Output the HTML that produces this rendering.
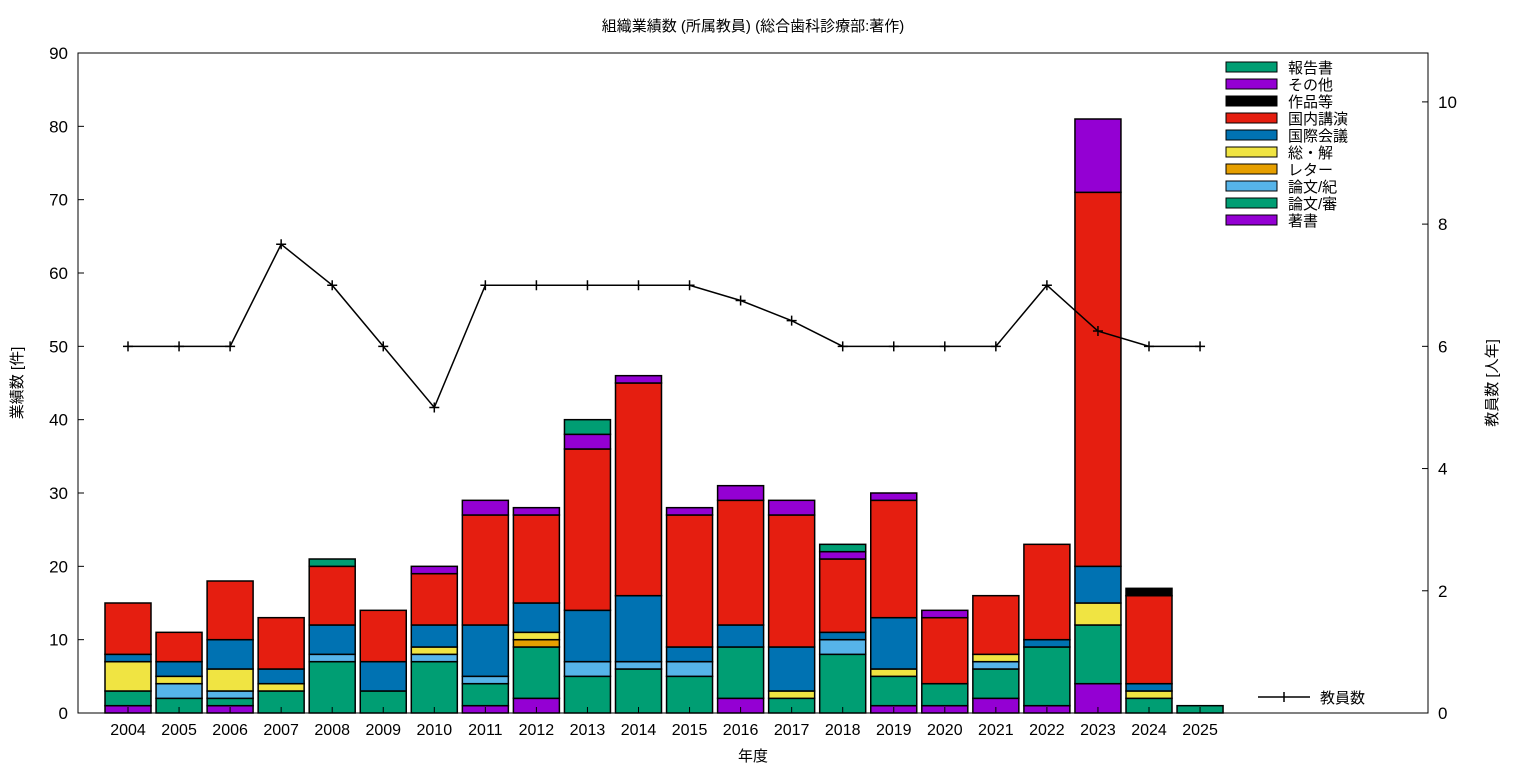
<!DOCTYPE html>
<html><head><meta charset="utf-8"><style>
body{margin:0;background:#fff;}
svg text{font-family:"Liberation Sans","Noto Sans CJK JP",sans-serif;}
</style></head><body>
<svg id="c" width="1536" height="768" xmlns="http://www.w3.org/2000/svg"></svg>
<script>
const years=["2004","2005","2006","2007","2008","2009","2010","2011","2012","2013","2014","2015","2016","2017","2018","2019","2020","2021","2022","2023","2024","2025"];
const seriesNames=["著書","論文/審","論文/紀","レター","総・解","国際会議","国内講演","作品等","その他","報告書"];
const seriesColors=["#9400d3","#009e73","#56b4e9","#e69f00","#f0e442","#0072b2","#e51e10","#000000","#9400d3","#009e73"];
const s_chosho=[1,0,1,0,0,0,0,1,2,0,0,0,2,0,0,1,1,2,1,4,0,0];
const s_shin=[2,2,1,3,7,3,7,3,7,5,6,5,7,2,8,4,3,4,8,8,2,1];
const s_kiyo=[0,2,1,0,1,0,1,1,0,2,1,2,0,0,2,0,0,1,0,0,0,0];
const s_letter=[0,0,0,0,0,0,0,0,1,0,0,0,0,0,0,0,0,0,0,0,0,0];
const s_sokai=[4,1,3,1,0,0,1,0,1,0,0,0,0,1,0,1,0,1,0,3,1,0];
const s_kokusai=[1,2,4,2,4,4,3,7,4,7,9,2,3,6,1,7,0,0,1,5,1,0];
const s_kokunai=[7,4,8,7,8,7,7,15,12,22,29,18,17,18,10,16,9,8,13,51,12,0];
const s_sakuhin=[0,0,0,0,0,0,0,0,0,0,0,0,0,0,0,0,0,0,0,0,1,0];
const s_sonota=[0,0,0,0,0,0,1,2,1,2,1,1,2,2,1,1,1,0,0,10,0,0];
const s_hokoku=[0,0,0,0,1,0,0,0,0,2,0,0,0,0,1,0,0,0,0,0,0,0];
const staff=[6,6,6,7.67,7,6,5,7,7,7,7,7,6.75,6.42,6,6,6,6,7,6.25,6,6];
const yTicks=[0,10,20,30,40,50,60,70,80,90];
const y2Ticks=[0,2,4,6,8,10];
const series=[s_chosho,s_shin,s_kiyo,s_letter,s_sokai,s_kokusai,s_kokunai,s_sakuhin,s_sonota,s_hokoku];

const svg=document.getElementById('c');
const NS="http://www.w3.org/2000/svg";
const L=78,R=1428,T=53,B=713;
const yMax=90,y2Max=10.8;
const bw=46;
const xs=i=>128+i*51.05;
const ys=v=>B-(v/yMax)*(B-T);
const ys2=v=>B-(v/y2Max)*(B-T);
function mk(tag,attrs,txt){const e=document.createElementNS(NS,tag);for(const k in attrs)e.setAttribute(k,attrs[k]);if(txt!==undefined)e.textContent=txt;svg.appendChild(e);return e;}

// bars
years.forEach((yr,i)=>{
  let acc=0;
  series.forEach((s,k)=>{
    const v=s[i];if(!v)return;
    const r=mk('rect',{x:xs(i)-bw/2,y:ys(acc+v),width:bw,height:ys(acc)-ys(acc+v),fill:seriesColors[k],stroke:'#000','stroke-width':1.5});
    
    
    acc+=v;
  });
});
// frame
const fr=mk('rect',{x:L,y:T,width:R-L,height:B-T,fill:'none',stroke:'#000','stroke-width':1});


// y ticks
yTicks.forEach(t=>{
  mk('line',{x1:L,x2:L+6,y1:ys(t),y2:ys(t),stroke:'#000'});
  const tx=mk('text',{x:L-10,y:ys(t)+6,'text-anchor':'end','font-size':17},t);
  
  
});
y2Ticks.forEach(t=>{
  mk('line',{x1:R-6,x2:R,y1:ys2(t),y2:ys2(t),stroke:'#000'});
  const tx=mk('text',{x:R+10,y:ys2(t)+6,'text-anchor':'start','font-size':17},t);
  
  
});
years.forEach((yr,i)=>{
  mk('line',{x1:xs(i),x2:xs(i),y1:B,y2:B-6,stroke:'#000'});
  const tx=mk('text',{x:xs(i),y:B+22,'text-anchor':'middle','font-size':16},yr);
  
  
});
// staff line
const pts=staff.map((v,i)=>xs(i)+','+ys2(v)).join(' ');
const pl=mk('polyline',{points:pts,fill:'none',stroke:'#000','stroke-width':1.5});


staff.forEach((v,i)=>{
  const p=mk('path',{d:`M${xs(i)-5},${ys2(v)}h10M${xs(i)},${ys2(v)-5}v10`,stroke:'#000','stroke-width':1.5});
  
  
});
// legend
for(let k=seriesNames.length-1,row=0;k>=0;k--,row++){
  const y=67+row*17;
  const r=mk('rect',{x:1226,y:y-5,width:51,height:10,fill:seriesColors[k],stroke:'#000'});
  
  
  const t=mk('text',{x:1288,y:y+6,'font-size':15},seriesNames[k]);
  
  
}
const ll=mk('path',{d:'M1258,697h52M1284,692v10',stroke:'#000','stroke-width':1.5});


const lt=mk('text',{x:1320,y:703,'font-size':15},'教員数');


// titles
const ti=mk('text',{x:753,y:31,'text-anchor':'middle','font-size':15},'組織業績数 (所属教員) (総合歯科診療部:著作)');


const xt=mk('text',{x:753,y:761,'text-anchor':'middle','font-size':15},'年度');


const yt=mk('text',{x:0,y:0,'text-anchor':'middle','font-size':15,transform:'translate(22,383) rotate(-90)'},'業績数 [件]');


const y2t=mk('text',{x:0,y:0,'text-anchor':'middle','font-size':15,transform:'translate(1497,383) rotate(-90)'},'教員数 [人年]');


</script>
</body></html>
